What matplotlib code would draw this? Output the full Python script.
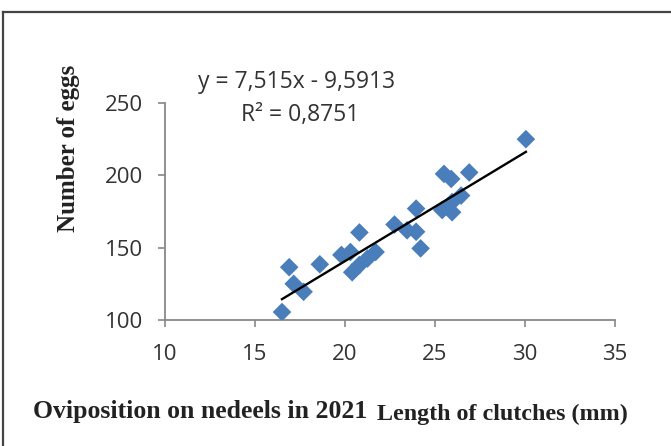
import matplotlib
matplotlib.use("Agg")
import matplotlib.pyplot as plt
from matplotlib.lines import Line2D
import numpy as np

# Clutch length (mm) vs number of eggs
clutch_length = [16.5, 16.9, 17.15, 17.7, 18.6, 19.8, 20.3, 20.4, 20.8, 20.8,
                 21.25, 21.7, 22.75, 23.45, 23.95, 23.95, 24.2, 25.4, 25.5,
                 25.95, 25.95, 25.9, 26.45, 26.9, 30.05]
egg_count = [105.5, 136.5, 125, 119.5, 138.5, 145, 147, 133, 138, 160.5,
             142.5, 147, 166, 162, 161, 177, 149.5, 176, 201,
             174.5, 181.5, 197.5, 186, 202, 225]

# Linear trend line coefficients
slope = 7.515
intercept = -9.5913
r_squared = 0.8751

x_ticks = [10, 15, 20, 25, 30, 35]
y_ticks = [100, 150, 200, 250]

W, H = 671, 446
fig = plt.figure(figsize=(W / 100, H / 100), dpi=100)
fig.patch.set_facecolor("white")

# outer frame (top and left edges)
fig.add_artist(Line2D([3 / W, 3 / W], [0, 1 - 12 / H],
                      transform=fig.transFigure, color="#444444", lw=1.6))
fig.add_artist(Line2D([3 / W, 1], [1 - 12 / H, 1 - 12 / H],
                      transform=fig.transFigure, color="#444444", lw=1.6))

ax = fig.add_axes([165 / W, 1 - 320 / H, 450 / W, (320 - 103) / H])
ax.scatter(clutch_length, egg_count, marker="D", s=90, color="#4A7EBB",
           edgecolors="none", zorder=3)

xs = np.array([min(clutch_length), max(clutch_length)])
ax.plot(xs, slope * xs + intercept, color="black", lw=1.7, zorder=4)

ax.set_xlim(10, 35)
ax.set_ylim(100, 250)
ax.set_xticks(x_ticks)
ax.set_yticks(y_ticks)
for s in ["top", "right"]:
    ax.spines[s].set_visible(False)
for s in ["left", "bottom"]:
    ax.spines[s].set_color("#888888")
    ax.spines[s].set_linewidth(1.3)
    ax.spines[s].set_clip_on(False)
ax.tick_params(axis="both", colors="#888888", length=5, width=1.2,
               labelsize=16, labelcolor="#333333")
ax.tick_params(axis="x", pad=12)
ax.tick_params(axis="y", pad=11)
for lab in ax.get_xticklabels() + ax.get_yticklabels():
    lab.set_family("Open Sans")

fig.text(68 / W, 1 - 148 / H, "Number of eggs", family="Liberation Serif",
         fontweight="bold", fontsize=18, color="#222222", rotation=90,
         ha="center", va="center")

fig.text(297 / W, 1 - 82 / H, "y = 7,515x - 9,5913", family="Open Sans",
         fontsize=16.5, color="#333333", ha="center", va="center")
fig.text(300 / W, 1 - 115 / H, f"R² = {r_squared}".replace(".", ","),
         family="Open Sans", fontsize=16.5, color="#333333",
         ha="center", va="center")

fig.text(33 / W, 1 - 418 / H, "Oviposition on nedeels in 2021",
         family="Liberation Serif", fontweight="bold", fontsize=18.5,
         color="#222222", ha="left", va="baseline")
fig.text(628 / W, 1 - 420 / H, "Length of clutches (mm)",
         family="Liberation Serif", fontweight="bold", fontsize=17.3,
         color="#222222", ha="right", va="baseline")

fig.savefig("out.png", dpi=100, facecolor="white")
